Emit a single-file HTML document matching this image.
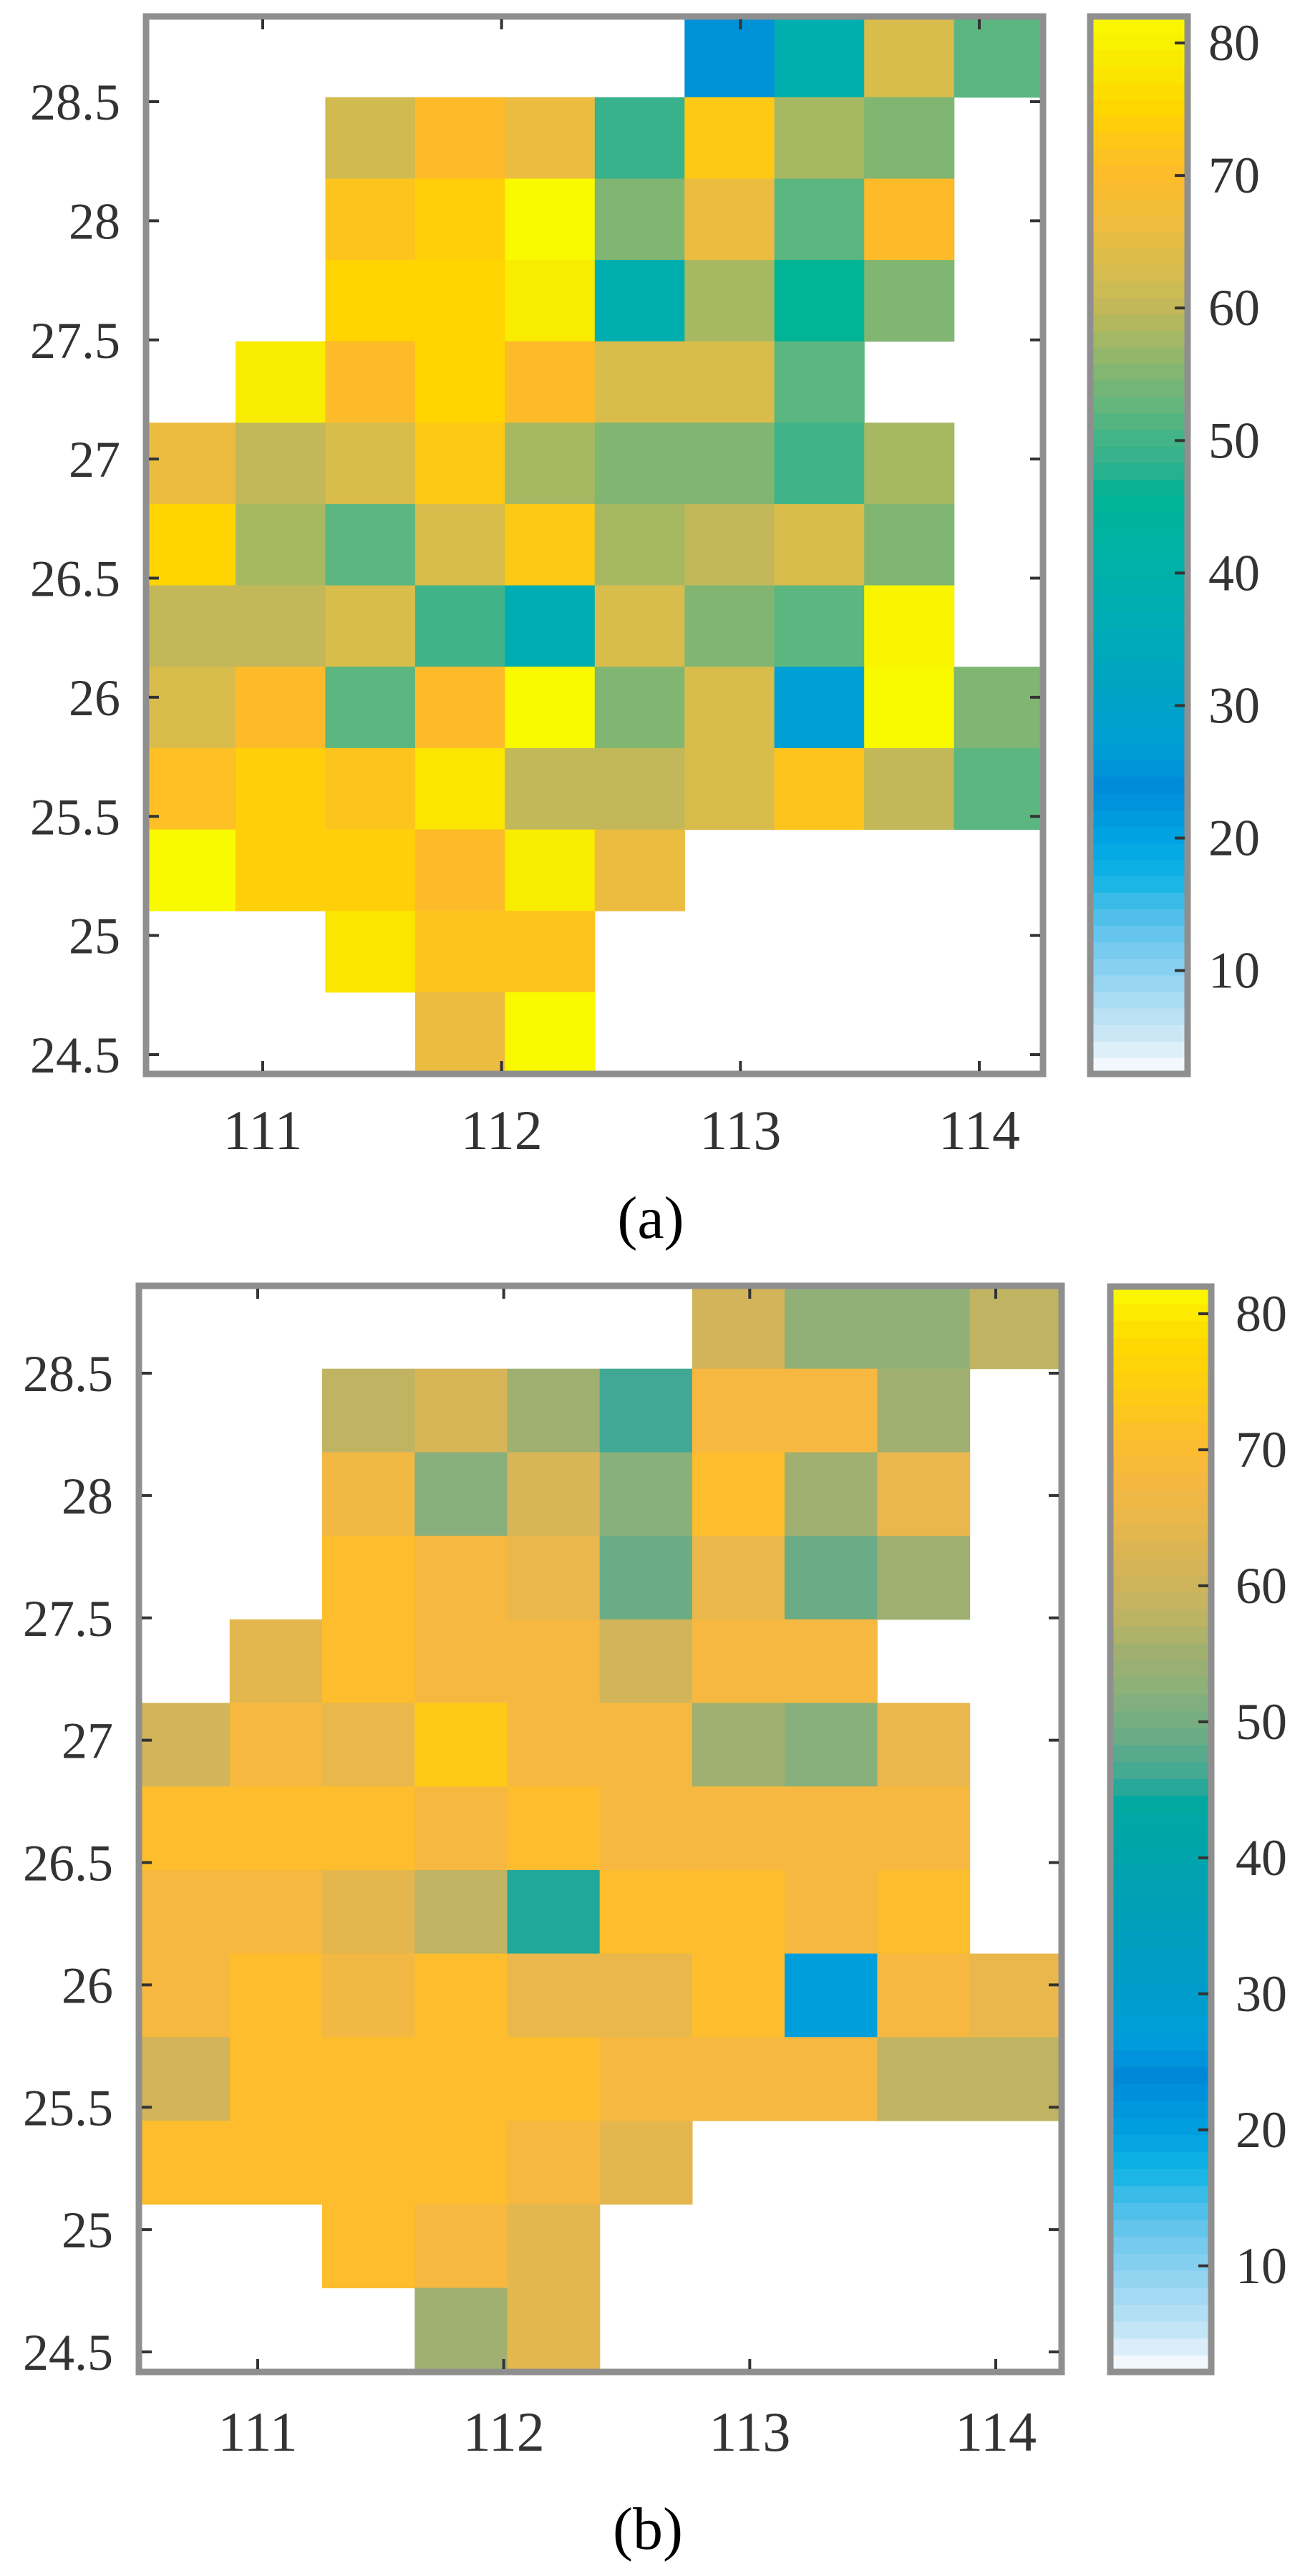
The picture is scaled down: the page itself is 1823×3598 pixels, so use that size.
<!DOCTYPE html>
<html><head><meta charset="utf-8"><style>
html,body{margin:0;padding:0;background:#fff;}
svg{display:block;}
text{font-family:"Liberation Serif",serif;fill:#333;}
</style></head><body>
<svg id="fig" width="1823" height="3598" viewBox="0 0 1823 3598" xmlns="http://www.w3.org/2000/svg"></svg>
<script>
// ---------- data ----------
const xTicks = [111, 112, 113, 114];
const yTicks = [24.5, 25, 25.5, 26, 26.5, 27, 27.5, 28, 28.5];
const yTickLabels = ["24.5","25","25.5","26","26.5","27","27.5","28","28.5"];
const cbTicks = [10, 20, 30, 40, 50, 60, 70, 80];
const gridX0 = 110.51, cellW = 0.376, nCols = 10;
const gridY1 = 28.86, cellH = 0.3415, nRows = 13;
const N = null;
// rows top (north) to bottom (south), 10 columns west to east
const valuesA = [
 [N,N,N,N,N,N,25,38,63,52],
 [N,N,62,70,66,49,73,58,55,N],
 [N,N,72,74,82,55,66,52,70,N],
 [N,N,75,75,79,38,58,46,55,N],
 [N,79,70,75,70,63,63,52,N,N],
 [66,60,63,73,58,55,55,50,58,N],
 [75,58,52,63,73,58,60,63,55,N],
 [60,60,63,50,37,63,55,52,81,N],
 [63,70,52,70,82,55,63,27,82,55],
 [71,74,72,78,60,60,63,72,60,52],
 [82,74,74,70,79,66,N,N,N,N],
 [N,N,78,72,72,N,N,N,N,N],
 [N,N,N,66,82,N,N,N,N,N]
];
const valuesB = [
 [N,N,N,N,N,N,61,53,53,58],
 [N,N,58,62,55,46,68,68,55,N],
 [N,N,67,52,62,52,71,55,65,N],
 [N,N,71,68,65,49,65,49,55,N],
 [N,64,71,68,68,61,68,68,N,N],
 [61,68,65,74,68,68,55,52,65,N],
 [71,71,71,68,71,68,68,68,68,N],
 [68,68,64,58,45,71,71,68,71,N],
 [68,71,67,71,65,65,71,27,68,65],
 [61,71,71,71,71,68,68,68,58,58],
 [71,71,71,71,68,64,N,N,N,N],
 [N,N,71,68,64,N,N,N,N,N],
 [N,N,N,55,64,N,N,N,N,N]
];
const cbMin = 2.2, cbMax = 82;

// colormaps (style)
const cmapA = [[2.2,"#ffffff"],[3,"#eef6fc"],[5,"#cfe9f7"],[8,"#a6daf2"],[12,"#72c8ee"],[15,"#40bce8"],[17,"#10b4e6"],[20,"#00a4e2"],[24,"#008cd8"],[27,"#009fd6"],[30,"#00a2c8"],[38,"#00aeb0"],[46,"#00b496"],[48,"#2eb08e"],[50,"#40b488"],[52,"#5cb680"],[55,"#80b672"],[58,"#a6b862"],[60,"#c2b85a"],[63,"#d8bc4c"],[66,"#ecbc40"],[70,"#fdbb2a"],[72,"#fec41e"],[75,"#ffd400"],[79,"#f8ec00"],[82,"#f9f900"]];
const cmapB = [[2.2,"#ffffff"],[3,"#eef6fc"],[5,"#c8e6f6"],[8,"#a0d8f2"],[12,"#70c8ee"],[15,"#40bce8"],[17,"#10b4e6"],[20,"#00a0e0"],[24,"#0088d8"],[27,"#009fdc"],[30,"#009ccc"],[40,"#00a4ac"],[44,"#00a8a0"],[46,"#40a894"],[49,"#6aac86"],[52,"#88b07c"],[55,"#a0b070"],[58,"#c0b462"],[61,"#d2b45a"],[64,"#e4b64e"],[68,"#f6b840"],[71,"#fdbd2c"],[74,"#fdcb15"],[78,"#ffd800"],[82,"#fafa00"]];

const panels = [
 {id:"a", vals:valuesA, cmap:cmapA, L:204,R:1457,T:23,B:1500, x111:367,x114:1368, y285:142,y245:1473,
  cbL:1523,cbR:1659,cbT:23,cbB:1500, ylabR:168, xlabY:1605, cbLabX:1688, cap:"(a)", capX:909, capY:1729},
 {id:"b", vals:valuesB, cmap:cmapB, L:194,R:1483,T:1796,B:3313, x111:360,x114:1391, y285:1918,y245:3285,
  cbL:1551,cbR:1692,cbT:1797,cbB:3313, ylabR:158, xlabY:3423, cbLabX:1726, cap:"(b)", capX:905, capY:3560}
];

const NS="http://www.w3.org/2000/svg";
const svg=document.getElementById("fig");
function mk(tag,attrs,parent){const e=document.createElementNS(NS,tag);for(const k in attrs)e.setAttribute(k,attrs[k]);(parent||svg).appendChild(e);return e;}
function hex2rgb(h){return [parseInt(h.substr(1,2),16),parseInt(h.substr(3,2),16),parseInt(h.substr(5,2),16)];}
function colorOf(cmap,v){
  if(v<=cmap[0][0])return cmap[0][1];
  for(let i=1;i<cmap.length;i++){if(v<=cmap[i][0]){const a=cmap[i-1],b=cmap[i];const t=(v-a[0])/(b[0]-a[0]);const ca=hex2rgb(a[1]),cb=hex2rgb(b[1]);return "rgb("+ca.map((c,j)=>Math.round(c+(cb[j]-c)*t)).join(",")+")";}}
  return cmap[cmap.length-1][1];
}

panels.forEach(p=>{
  const sx=(p.x114-p.x111)/3, sy=(p.y245-p.y285)/4;
  const xS=v=>p.x111+(v-111)*sx;
  const yS=v=>p.y285+(28.5-v)*sy;
  const g=mk("g",{});
  
  
  p.vals.forEach((row,r)=>row.forEach((v,c)=>{
    if(v===null)return;
    const x0=xS(gridX0+c*cellW), x1=xS(gridX0+(c+1)*cellW);
    const y0=yS(gridY1-r*cellH), y1=yS(gridY1-(r+1)*cellH);
    const rc=mk("rect",{x:Math.max(x0,p.L).toFixed(1),y:Math.max(y0,p.T).toFixed(1),width:(Math.min(x1,p.R)-Math.max(x0,p.L)+0.6).toFixed(1),height:(Math.min(y1,p.B)-Math.max(y0,p.T)+0.6).toFixed(1),fill:colorOf(p.cmap,v)},g);
    
    
  }));
  const fr=mk("rect",{x:p.L,y:p.T,width:p.R-p.L,height:p.B-p.T,fill:"none",stroke:"#8f8f8f","stroke-width":9},g);
  
  
  xTicks.forEach(t=>{
    const x=xS(t);
    mk("line",{x1:x,y1:p.B-4,x2:x,y2:p.B-18,stroke:"#333","stroke-width":4},g);
    mk("line",{x1:x,y1:p.T+4,x2:x,y2:p.T+18,stroke:"#333","stroke-width":4},g);
    const tx=mk("text",{x:x,y:p.xlabY,"text-anchor":"middle","font-size":78},g);
    tx.textContent=String(t);
    
    
  });
  yTicks.forEach((t,i)=>{
    const y=yS(t);
    mk("line",{x1:p.L+4,y1:y,x2:p.L+18,y2:y,stroke:"#333","stroke-width":4},g);
    mk("line",{x1:p.R-4,y1:y,x2:p.R-18,y2:y,stroke:"#333","stroke-width":4},g);
    const ty=mk("text",{x:p.ylabR,y:y+25,"text-anchor":"end","font-size":72},g);
    ty.textContent=yTickLabels[i];
    
    
  });
  const cb=mk("g",{});
  
  
  const cyS=v=>p.cbB-(v-cbMin)/(cbMax-cbMin)*(p.cbB-p.cbT);
  const steps=64;
  for(let i=0;i<steps;i++){
    const v0=cbMin+(cbMax-cbMin)*i/steps, v1=cbMin+(cbMax-cbMin)*(i+1)/steps;
    mk("rect",{x:p.cbL,y:cyS(v1).toFixed(1),width:p.cbR-p.cbL,height:(cyS(v0)-cyS(v1)+0.8).toFixed(1),fill:colorOf(p.cmap,(v0+v1)/2)},cb);
  }
  mk("rect",{x:p.cbL,y:p.cbT,width:p.cbR-p.cbL,height:p.cbB-p.cbT,fill:"none",stroke:"#8f8f8f","stroke-width":9},cb);
  cbTicks.forEach(t=>{
    const y=cyS(t);
    mk("line",{x1:p.cbR-4,y1:y,x2:p.cbR-18,y2:y,stroke:"#333","stroke-width":4},cb);
    const tl=mk("text",{x:p.cbLabX,y:y+24,"font-size":72},cb);
    tl.textContent=String(t);
    
    
  });
  const cap=mk("text",{x:p.capX,y:p.capY,"text-anchor":"middle","font-size":84,style:"fill:#000"});
  cap.textContent=p.cap;
  
  
});
</script>
</body></html>
